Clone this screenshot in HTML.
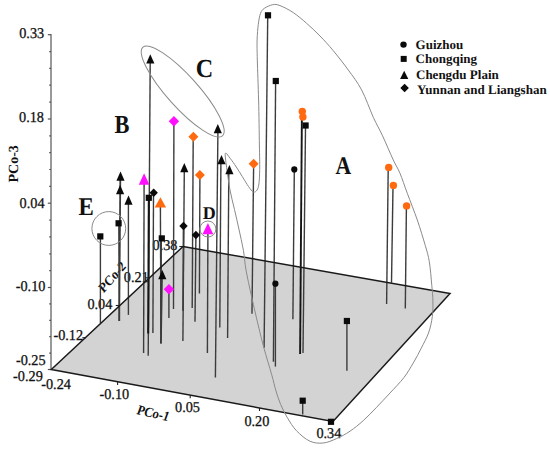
<!DOCTYPE html>
<html><head><meta charset="utf-8"><style>
html,body{margin:0;padding:0;background:#fff;width:550px;height:451px;overflow:hidden;}
svg{display:block;}
text{font-family:"Liberation Serif",serif;text-rendering:geometricPrecision;}
</style></head><body>
<svg width="550" height="451" viewBox="0 0 550 451">
<rect width="550" height="451" fill="#ffffff"/>
<polygon points="51.3,369.5 183,246.5 450,293.5 333,421.5" fill="#d3d3d3"/>
<g stroke="#555" stroke-width="1.2">
<line x1="51" y1="34" x2="51" y2="369.5"/>
<line x1="47.8" y1="34.7" x2="51" y2="34.7"/><line x1="49.2" y1="51.6" x2="51" y2="51.6"/><line x1="49.2" y1="68.4" x2="51" y2="68.4"/><line x1="49.2" y1="85.2" x2="51" y2="85.2"/><line x1="49.2" y1="102.1" x2="51" y2="102.1"/><line x1="47.8" y1="119.0" x2="51" y2="119.0"/><line x1="49.2" y1="135.8" x2="51" y2="135.8"/><line x1="49.2" y1="152.7" x2="51" y2="152.7"/><line x1="49.2" y1="169.5" x2="51" y2="169.5"/><line x1="49.2" y1="186.4" x2="51" y2="186.4"/><line x1="47.8" y1="203.2" x2="51" y2="203.2"/><line x1="49.2" y1="220.1" x2="51" y2="220.1"/><line x1="49.2" y1="236.9" x2="51" y2="236.9"/><line x1="49.2" y1="253.8" x2="51" y2="253.8"/><line x1="49.2" y1="270.6" x2="51" y2="270.6"/><line x1="47.8" y1="287.5" x2="51" y2="287.5"/><line x1="49.2" y1="303.9" x2="51" y2="303.9"/><line x1="49.2" y1="320.3" x2="51" y2="320.3"/><line x1="49.2" y1="336.7" x2="51" y2="336.7"/><line x1="49.2" y1="353.1" x2="51" y2="353.1"/><line x1="47.8" y1="369.5" x2="51" y2="369.5"/>
</g>
<text transform="translate(19.2,38) scale(0.95,1)" font-family="Liberation Serif" font-size="15" font-weight="normal" font-style="normal" fill="#111" stroke="#111" stroke-width="0.3">0.33</text><text transform="translate(19.0,122) scale(0.95,1)" font-family="Liberation Serif" font-size="15" font-weight="normal" font-style="normal" fill="#111" stroke="#111" stroke-width="0.3">0.18</text><text transform="translate(19.6,207.5) scale(0.95,1)" font-family="Liberation Serif" font-size="15" font-weight="normal" font-style="normal" fill="#111" stroke="#111" stroke-width="0.3">0.04</text><text transform="translate(15.7,290.5) scale(0.95,1)" font-family="Liberation Serif" font-size="15" font-weight="normal" font-style="normal" fill="#111" stroke="#111" stroke-width="0.3">-0.10</text><text transform="translate(15.9,365) scale(0.95,1)" font-family="Liberation Serif" font-size="15" font-weight="normal" font-style="normal" fill="#111" stroke="#111" stroke-width="0.3">-0.25</text><text transform="translate(13.1,381) scale(0.95,1)" font-family="Liberation Serif" font-size="15" font-weight="normal" font-style="normal" fill="#111" stroke="#111" stroke-width="0.3">-0.29</text><text transform="translate(53.4,340) scale(0.95,1)" font-family="Liberation Serif" font-size="15" font-weight="normal" font-style="normal" fill="#111" stroke="#111" stroke-width="0.3">-0.12</text><text transform="translate(87.4,308.5) scale(0.95,1)" font-family="Liberation Serif" font-size="15" font-weight="normal" font-style="normal" fill="#111" stroke="#111" stroke-width="0.3">0.04</text><text transform="translate(123.8,281.5) scale(0.95,1)" font-family="Liberation Serif" font-size="15" font-weight="normal" font-style="normal" fill="#111" stroke="#111" stroke-width="0.3">0.21</text><text transform="translate(152.5,249.5) scale(0.95,1)" font-family="Liberation Serif" font-size="15" font-weight="normal" font-style="normal" fill="#111" stroke="#111" stroke-width="0.3">0.38</text><text transform="translate(41.2,389) scale(0.95,1)" font-family="Liberation Serif" font-size="15" font-weight="normal" font-style="normal" fill="#111" stroke="#111" stroke-width="0.3">-0.24</text><text transform="translate(99.5,399) scale(0.95,1)" font-family="Liberation Serif" font-size="15" font-weight="normal" font-style="normal" fill="#111" stroke="#111" stroke-width="0.3">-0.10</text><text transform="translate(175,411.7) scale(0.95,1)" font-family="Liberation Serif" font-size="15" font-weight="normal" font-style="normal" fill="#111" stroke="#111" stroke-width="0.3">0.05</text><text transform="translate(244.4,425.5) scale(0.95,1)" font-family="Liberation Serif" font-size="15" font-weight="normal" font-style="normal" fill="#111" stroke="#111" stroke-width="0.3">0.20</text><text transform="translate(316.4,438) scale(0.95,1)" font-family="Liberation Serif" font-size="15" font-weight="normal" font-style="normal" fill="#111" stroke="#111" stroke-width="0.3">0.34</text><text transform="translate(17.6,182.5) rotate(-90)" font-family="Liberation Serif" font-size="14" font-weight="bold" font-style="normal" fill="#111">PCo-3</text><text transform="translate(103.5,293.5) scale(0.88,1) rotate(-45)" font-family="Liberation Serif" font-size="14" font-weight="bold" font-style="normal" fill="#111">PCo-2</text><text transform="translate(136.3,414) scale(0.9,1) rotate(11.6)" font-family="Liberation Serif" font-size="14" font-weight="bold" font-style="italic" fill="#111">PCo-1</text><text transform="translate(335.5,174) scale(0.85,1)" font-family="Liberation Serif" font-size="25.5" font-weight="bold" font-style="normal" fill="#111">A</text><text transform="translate(114.4,133) scale(0.86,1)" font-family="Liberation Serif" font-size="26" font-weight="bold" font-style="normal" fill="#111">B</text><text transform="translate(195.8,77) scale(0.93,1)" font-family="Liberation Serif" font-size="26" font-weight="bold" font-style="normal" fill="#111">C</text><text transform="translate(78.5,214.8) scale(0.9,1)" font-family="Liberation Serif" font-size="25.5" font-weight="bold" font-style="normal" fill="#111">E</text><text transform="translate(202.8,218.6)" font-family="Liberation Serif" font-size="18" font-weight="bold" font-style="normal" fill="#111">D</text>
<g stroke="#3c3c3c" stroke-linecap="butt">
<line x1="150.2" y1="63" x2="148.2" y2="355.8" stroke-width="1.4"/><line x1="217.9" y1="132" x2="215.4" y2="377.6" stroke-width="1.4"/><line x1="220.9" y1="162" x2="219.8" y2="327.5" stroke-width="1.4"/><line x1="228.8" y1="172" x2="227.6" y2="338" stroke-width="1.4"/><line x1="184.3" y1="170" x2="182.9" y2="341" stroke-width="1.4"/><line x1="183.5" y1="226" x2="183.0" y2="310.8" stroke-width="1.6"/><line x1="120.3" y1="178" x2="119.2" y2="320.9" stroke-width="1.8"/><line x1="128.4" y1="203" x2="128.4" y2="314.9" stroke-width="1.4"/><line x1="162.0" y1="275" x2="160.9" y2="343.5" stroke-width="1.8"/><line x1="144.1" y1="183" x2="143.6" y2="352.9" stroke-width="1.4"/><line x1="207.9" y1="233" x2="207.4" y2="352.9" stroke-width="1.4"/><line x1="160.4" y1="206" x2="160.9" y2="333.9" stroke-width="1.4"/><line x1="267.7" y1="18" x2="264.1" y2="347.8" stroke-width="1.4"/><line x1="275.6" y1="84" x2="273.4" y2="361.7" stroke-width="1.4"/><line x1="305.5" y1="128" x2="303.0" y2="353.0" stroke-width="1.4"/><line x1="100.4" y1="238" x2="100.4" y2="323.0" stroke-width="1.4"/><line x1="118.8" y1="225" x2="119.4" y2="321.0" stroke-width="1.4"/><line x1="148.8" y1="199" x2="148.2" y2="333.5" stroke-width="2.0" stroke="#151515"/><line x1="161.3" y1="240" x2="161.0" y2="343.5" stroke-width="1.4"/><line x1="346.9" y1="322" x2="346.9" y2="370.8" stroke-width="1.4"/><line x1="302.7" y1="402" x2="302.7" y2="414.5" stroke-width="1.4"/><line x1="294.3" y1="171" x2="292.9" y2="319.3" stroke-width="1.4"/><line x1="275.4" y1="285" x2="275.4" y2="366.6" stroke-width="1.4"/><line x1="301.9" y1="114" x2="300.1" y2="353.9" stroke-width="1.9" stroke="#151515"/><line x1="388.2" y1="169" x2="386.6" y2="304.0" stroke-width="1.4"/><line x1="393.0" y1="187" x2="391.5" y2="282.7" stroke-width="1.4"/><line x1="406.4" y1="207" x2="405.3" y2="308.6" stroke-width="1.4"/><line x1="153.5" y1="194" x2="152.9" y2="332.9" stroke-width="1.4"/><line x1="195.9" y1="236" x2="195.0" y2="321.8" stroke-width="1.4"/><line x1="173.9" y1="124" x2="173.5" y2="309.0" stroke-width="1.4"/><line x1="168.9" y1="291" x2="168.9" y2="317.9" stroke-width="1.4"/><line x1="193.2" y1="139" x2="192.2" y2="308.0" stroke-width="1.4"/><line x1="199.9" y1="178" x2="199.4" y2="293.5" stroke-width="1.4"/><line x1="253.6" y1="166" x2="252.0" y2="313.7" stroke-width="1.4"/>
</g>
<g stroke="#222" stroke-width="1.1">
<line x1="117.6" y1="382" x2="117.6" y2="385"/><line x1="190.2" y1="395.3" x2="190.2" y2="398.3"/><line x1="259.5" y1="408" x2="259.5" y2="411"/>
<line x1="82.3" y1="337.7" x2="86" y2="337.7"/><line x1="115.8" y1="305.5" x2="119.6" y2="305.5"/><line x1="145.5" y1="277.8" x2="149.3" y2="277.8"/><line x1="179.3" y1="246.5" x2="183" y2="246.5"/>
</g>
<polyline points="183,246.5 51.3,369.5 333,421.5 450,293.5 183,246.5" fill="none" stroke="#1a1a1a" stroke-width="1.5" stroke-linejoin="miter"/>
<g fill="none" stroke="#8a8a8a" stroke-width="1">
<ellipse cx="182.7" cy="91.5" rx="59.5" ry="15.6" transform="rotate(48.1 182.7 91.5)"/>
<circle cx="108.8" cy="228.5" r="16.9"/>
<circle cx="207.9" cy="229" r="8"/>
<path d="M272.7,4.7 C275.3,4.2 276.6,4.3 280.0,5.6 C283.4,6.9 288.9,9.6 293.3,12.6 C297.7,15.6 302.2,19.4 306.6,23.3 C311.0,27.2 315.5,31.3 319.9,35.9 C324.3,40.4 328.5,44.9 333.2,50.6 C337.9,56.3 343.6,63.5 348.3,70.0 C353.0,76.5 357.4,82.0 361.6,89.9 C365.8,97.8 369.8,109.6 373.3,117.3 C376.8,125.0 379.3,128.8 382.6,135.9 C385.9,143.0 390.4,153.8 393.3,160.0 C396.2,166.2 397.7,167.8 400.0,173.3 C402.3,178.9 404.4,185.5 407.3,193.3 C410.2,201.1 414.3,211.3 417.3,220.0 C420.3,228.7 423.3,238.7 425.3,245.6 C427.3,252.5 428.2,255.0 429.3,261.6 C430.4,268.2 431.2,278.9 431.8,285.5 C432.4,292.1 432.8,295.8 432.9,301.0 C433.0,306.2 433.0,311.3 432.3,316.6 C431.6,321.9 430.4,327.7 428.5,333.0 C426.6,338.3 423.7,343.3 421.2,348.3 C418.7,353.3 416.2,358.0 413.3,362.9 C410.4,367.8 407.8,372.6 403.9,377.6 C400.0,382.6 394.6,388.1 390.0,393.0 C385.4,397.9 381.1,402.7 376.6,407.3 C372.2,411.9 367.7,416.6 363.3,420.6 C358.9,424.6 354.4,428.2 350.0,431.2 C345.6,434.2 341.2,436.5 336.7,438.5 C332.2,440.5 327.7,442.6 323.2,443.0 C318.7,443.4 314.3,443.2 309.9,441.2 C305.5,439.2 300.4,434.8 296.6,430.9 C292.8,427.0 290.0,422.0 287.3,417.6 C284.6,413.2 282.5,408.7 280.6,404.3 C278.7,399.9 277.5,395.9 276.0,391.0 C274.5,386.1 273.7,381.8 271.7,374.7 C269.7,367.6 266.1,356.0 264.0,348.3 C261.9,340.6 261.1,337.1 259.0,328.5 C256.9,319.9 253.8,306.4 251.6,296.6 C249.4,286.9 247.4,277.7 246.0,270.0 C244.6,262.3 244.6,257.1 243.4,250.3 C242.2,243.5 240.4,235.8 238.9,229.0 C237.4,222.2 236.0,216.0 234.5,209.5 C233.0,203.0 231.2,196.6 230.0,190.0 C228.8,183.4 227.8,176.1 227.0,170.0 C226.2,163.9 224.8,155.4 225.3,153.5 C225.8,151.6 228.4,156.2 230.2,158.4 C232.0,160.7 234.3,163.9 236.3,167.0 C238.3,170.1 240.4,173.4 242.4,176.7 C244.4,179.9 246.7,183.9 248.5,186.5 C250.3,189.1 252.0,191.4 253.4,192.0 C254.8,192.6 256.1,191.4 257.0,190.1 C257.9,188.8 258.4,187.4 258.9,184.0 C259.3,180.6 259.6,175.9 259.7,169.4 C259.8,162.9 259.6,156.6 259.4,145.0 C259.2,133.4 259.0,114.2 258.6,100.0 C258.2,85.8 257.6,70.0 257.3,60.0 C257.1,50.0 256.9,45.9 257.1,40.0 C257.3,34.1 257.7,28.8 258.3,24.4 C258.9,19.9 259.5,16.0 260.5,13.3 C261.5,10.6 262.4,9.7 264.4,8.3 C266.4,6.9 270.1,5.2 272.7,4.7 Z"/>
</g>
<polygon points="150.3,54.2 146.2,63.5 154.4,63.5" fill="#0a0a0a"/><polygon points="217.8,124.0 213.7,133.3 221.9,133.3" fill="#0a0a0a"/><polygon points="221.5,155.0 217.4,164.3 225.6,164.3" fill="#0a0a0a"/><polygon points="229.4,165.0 225.3,174.3 233.5,174.3" fill="#0a0a0a"/><polygon points="184.3,163.0 180.2,172.3 188.4,172.3" fill="#0a0a0a"/><polygon points="120.5,171.5 116.4,180.8 124.6,180.8" fill="#0a0a0a"/><polygon points="120.1,184.9 116.0,194.2 124.2,194.2" fill="#0a0a0a"/><polygon points="128.5,195.5 124.4,204.8 132.6,204.8" fill="#0a0a0a"/><polygon points="162.3,270.0 158.2,279.3 166.4,279.3" fill="#0a0a0a"/><polygon points="144.1,173.3 138.8,184.7 149.4,184.7" fill="#ff10ff"/><polygon points="207.9,223.0 202.5,234.2 213.3,234.2" fill="#ff10ff"/><polygon points="160.4,197.3 154.7,207.6 166.1,207.6" fill="#ff6a10"/><rect x="264.9" y="12.2" width="6.2" height="6.2" fill="#0a0a0a"/><rect x="272.7" y="77.9" width="6.2" height="6.2" fill="#0a0a0a"/><rect x="302.5" y="122.4" width="6.2" height="6.2" fill="#0a0a0a"/><rect x="97.2" y="233.3" width="6.2" height="6.2" fill="#0a0a0a"/><rect x="115.5" y="220.2" width="6.2" height="6.2" fill="#0a0a0a"/><rect x="145.7" y="194.7" width="6.2" height="6.2" fill="#0a0a0a"/><rect x="158.7" y="235.3" width="6.2" height="6.2" fill="#0a0a0a"/><rect x="343.8" y="317.9" width="6.2" height="6.2" fill="#0a0a0a"/><rect x="299.6" y="397.6" width="6.2" height="6.2" fill="#0a0a0a"/><rect x="327.9" y="418.7" width="6.2" height="6.2" fill="#0a0a0a"/><circle cx="294.3" cy="169.4" r="3.1" fill="#0a0a0a"/><circle cx="275.4" cy="283.7" r="3.1" fill="#0a0a0a"/><circle cx="302.3" cy="111.4" r="3.7" fill="#ff6a10"/><circle cx="302.9" cy="117" r="3.7" fill="#ff6a10"/><circle cx="388.7" cy="167.4" r="3.7" fill="#ff6a10"/><circle cx="393.4" cy="185.4" r="3.7" fill="#ff6a10"/><circle cx="406.6" cy="205.9" r="3.7" fill="#ff6a10"/><polygon points="153.7,188.6 157.9,192.8 153.7,197.0 149.5,192.8" fill="#0a0a0a"/><polygon points="183.5,221.8 187.7,226.0 183.5,230.2 179.3,226.0" fill="#0a0a0a"/><polygon points="195.9,230.8 200.1,235.0 195.9,239.2 191.7,235.0" fill="#0a0a0a"/><polygon points="173.9,116.1 179.1,121.3 173.9,126.5 168.7,121.3" fill="#ff10ff"/><polygon points="168.9,284.0 174.1,289.2 168.9,294.4 163.7,289.2" fill="#ff10ff"/><polygon points="193.4,131.7 198.4,136.7 193.4,141.7 188.4,136.7" fill="#ff6a10"/><polygon points="199.9,170.0 204.9,175.0 199.9,180.0 194.9,175.0" fill="#ff6a10"/><polygon points="253.6,158.8 258.6,163.8 253.6,168.8 248.6,163.8" fill="#ff6a10"/>
<g font-family="Liberation Serif" font-weight="bold" font-size="13" fill="#111">
<circle cx="403.5" cy="44.6" r="3.2" fill="#0a0a0a"/>
<text x="415.6" y="48.8">Guizhou</text>
<rect x="400.7" y="55.9" width="6" height="6" fill="#0a0a0a"/>
<text x="415.6" y="62.8">Chongqing</text>
<polygon points="404.2,70.8 400.1,79.0 408.3,79.0" fill="#0a0a0a"/>
<text x="416" y="79">Chengdu Plain</text>
<polygon points="404.6,83.7 408.9,88.0 404.6,92.3 400.3,88.0" fill="#0a0a0a"/>
<text x="417" y="93.8">Yunnan and Liangshan</text>
</g>
</svg>
</body></html>
